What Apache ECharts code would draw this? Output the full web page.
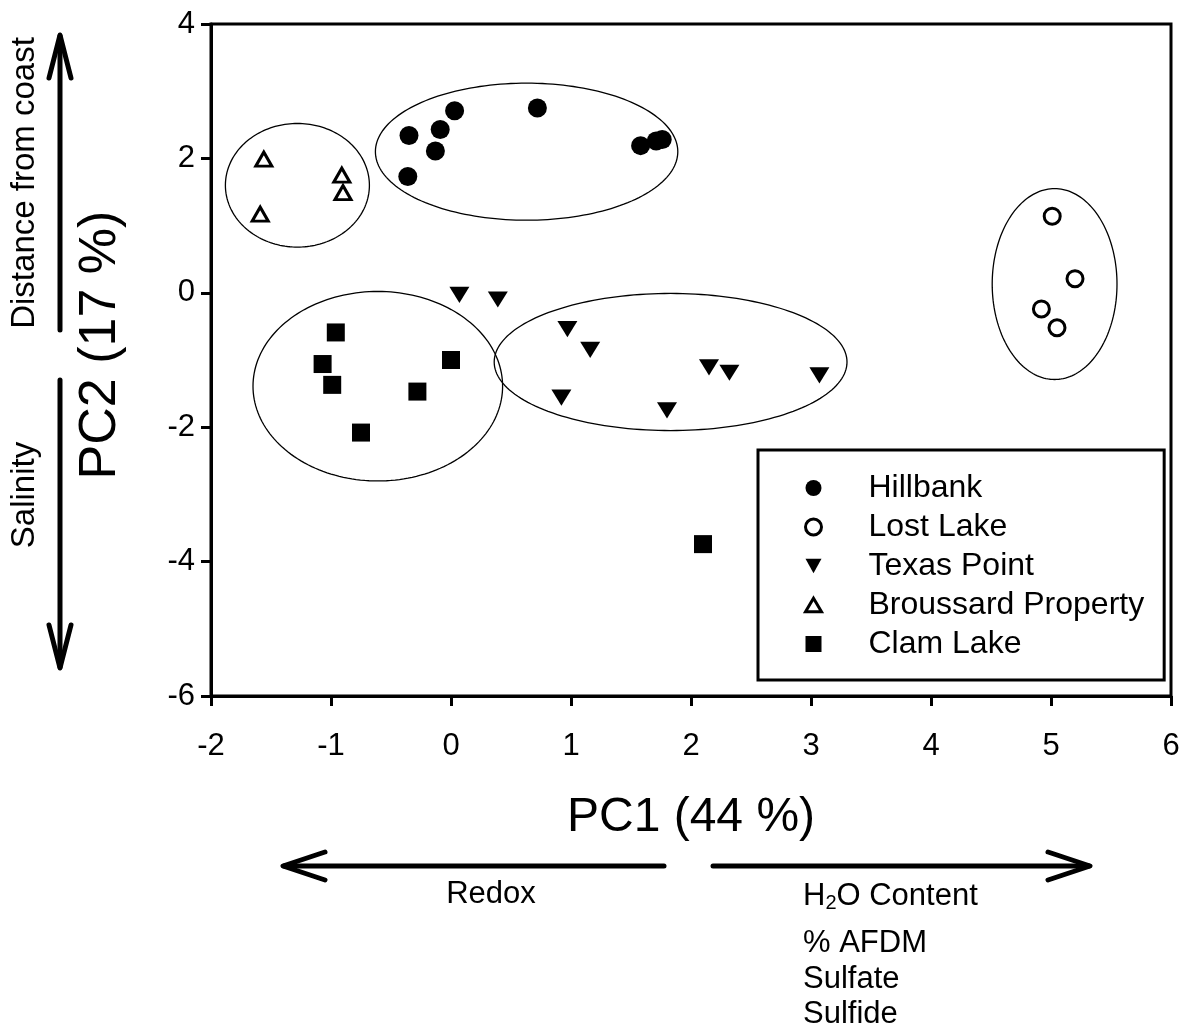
<!DOCTYPE html>
<html><head><meta charset="utf-8">
<script src="https://cdn.jsdelivr.net/npm/echarts@6/dist/echarts.min.js"></script>
<style>html,body{margin:0;padding:0;background:#fff}#c{width:1183px;height:1029px}</style>
</head><body><div id="c"></div>
<script>
// ---- data ----
const seriesNames = ['Hillbank', 'Lost Lake', 'Texas Point', 'Broussard Property', 'Clam Lake'];
const hillbankX = [-0.35, -0.09, 0.03, -0.13, -0.36, 0.72, 1.58, 1.71, 1.76];
const hillbankY = [2.34, 2.43, 2.71, 2.11, 1.73, 2.75, 2.19, 2.26, 2.28];
const lostLakeX = [5.01, 5.20, 4.92, 5.05];
const lostLakeY = [1.14, 0.21, -0.24, -0.52];
const texasX = [0.07, 0.39, 0.97, 1.16, 2.15, 2.32, 3.07, 0.92, 1.80];
const texasY = [-0.03, -0.10, -0.54, -0.85, -1.11, -1.19, -1.23, -1.56, -1.75];
const broussardX = [-1.56, -0.91, -0.90, -1.59];
const broussardY = [1.99, 1.75, 1.49, 1.17];
const clamX = [-0.96, -1.07, -0.99, 0.00, -0.28, -0.75, 2.10];
const clamY = [-0.59, -1.06, -1.37, -1.00, -1.47, -2.08, -3.74];
// group ellipses: Broussard, Hillbank, Lost Lake, Clam Lake, Texas Point
const ellipseCx = [-1.28, 0.63, 5.03, -0.61, 1.83];
const ellipseCy = [1.60, 2.10, 0.13, -1.39, -1.03];
const ellipseRx = [0.60, 1.26, 0.52, 1.04, 1.47];
const ellipseRy = [0.92, 1.02, 1.42, 1.41, 1.02];
const xAxisTitle = 'PC1 (44 %)';
const yAxisTitle = 'PC2 (17 %)';

const FONT = 'Liberation Sans, Arial, sans-serif';
function pairs(xs, ys) { return xs.map((v, i) => [v, ys[i]]); }

const chart = echarts.init(document.getElementById('c'), null, {renderer: 'canvas'});

const DOWN_TRI = 'path://M0,0L20,0L10,18Z';
const UP_TRI = 'path://M10,0L20,17L0,17Z';

const option = {
  backgroundColor: '#fff',
  animation: false,
  grid: {left: 211, right: 12, top: 24, bottom: 333, show: true, borderColor: '#000', borderWidth: 3, backgroundColor: 'transparent'},
  xAxis: {
    type: 'value', min: -2, max: 6, interval: 1,
    name: xAxisTitle, nameLocation: 'middle', nameGap: 98,
    nameTextStyle: {fontSize: 48, fontFamily: FONT, color: '#000'},
    axisLine: {show: true, onZero: false, lineStyle: {color: '#000', width: 3}},
    axisTick: {show: true, inside: false, length: 10, lineStyle: {color: '#000', width: 3}},
    axisLabel: {fontSize: 31, fontFamily: FONT, color: '#000', margin: 35},
    splitLine: {show: false}
  },
  yAxis: {
    type: 'value', min: -6, max: 4, interval: 2,
    name: yAxisTitle, nameLocation: 'middle', nameGap: 84,
    nameTextStyle: {fontSize: 52, fontFamily: FONT, color: '#000', padding: [0, 0, 0, 30]},
    axisLine: {show: true, onZero: false, lineStyle: {color: '#000', width: 3}},
    axisTick: {show: true, inside: false, length: 10, lineStyle: {color: '#000', width: 3}},
    axisLabel: {fontSize: 31, fontFamily: FONT, color: '#000', margin: 16},
    splitLine: {show: false}
  },
  legend: {
    orient: 'vertical', left: 758, top: 450,
    padding: [22, 20, 20, 46],
    itemWidth: 16, itemHeight: 16, itemGap: 7,
    borderColor: '#000', borderWidth: 3, backgroundColor: '#fff',
    selectedMode: false,
    textStyle: {fontSize: 32, fontFamily: FONT, color: '#000', lineHeight: 30, width: 275, padding: [0, 0, 0, 42]},
    data: [
      {name: seriesNames[0], icon: 'circle', itemStyle: {color: '#000'}},
      {name: seriesNames[1], icon: 'circle', itemStyle: {color: '#fff', borderColor: '#000', borderWidth: 3}},
      {name: seriesNames[2], icon: DOWN_TRI, itemStyle: {color: '#000'}},
      {name: seriesNames[3], icon: UP_TRI, itemStyle: {color: '#fff', borderColor: '#000', borderWidth: 3}},
      {name: seriesNames[4], icon: 'rect', itemStyle: {color: '#000'}}
    ]
  },
  series: [
    {
      type: 'custom', silent: true, z: 1,
      data: ellipseCx.map((v, i) => [v, ellipseCy[i], ellipseRx[i], ellipseRy[i]]),
      encode: {x: 0, y: 1},
      renderItem: function (params, api) {
        const cx = api.value(0), cy = api.value(1), rx = api.value(2), ry = api.value(3);
        const pts = [];
        for (let k = 0; k < 180; k++) {
          const t = 2 * Math.PI * k / 180;
          pts.push(api.coord([cx + rx * Math.cos(t), cy + ry * Math.sin(t)]));
        }
        return {type: 'polygon', shape: {points: pts}, style: {fill: 'none', stroke: '#000', lineWidth: 1.3}};
      }
    },
    {name: seriesNames[0], type: 'scatter', z: 3, data: pairs(hillbankX, hillbankY),
      symbol: 'circle', symbolSize: 19, itemStyle: {color: '#000', opacity: 1}},
    {name: seriesNames[1], type: 'scatter', z: 3, data: pairs(lostLakeX, lostLakeY),
      symbol: 'circle', symbolSize: 16, itemStyle: {color: '#fff', borderColor: '#000', borderWidth: 3, opacity: 1}},
    {name: seriesNames[2], type: 'scatter', z: 3, data: pairs(texasX, texasY),
      symbol: DOWN_TRI, symbolSize: [20, 18], symbolKeepAspect: true, itemStyle: {color: '#000', opacity: 1}},
    {name: seriesNames[3], type: 'scatter', z: 3, data: pairs(broussardX, broussardY),
      symbol: UP_TRI, symbolSize: [16, 14], itemStyle: {color: '#fff', borderColor: '#000', borderWidth: 3, opacity: 1}},
    {name: seriesNames[4], type: 'scatter', z: 3, data: pairs(clamX, clamY),
      symbol: 'rect', symbolSize: 18, itemStyle: {color: '#000', opacity: 1}}
  ],
  graphic: [
    // left vertical annotations
    {type: 'line', shape: {x1: 60, y1: 36, x2: 60, y2: 330}, style: {stroke: '#000', lineWidth: 5, lineCap: 'round'}},
    {type: 'polyline', shape: {points: [[49, 78], [60, 35], [71, 78]]}, style: {stroke: '#000', lineWidth: 5, fill: 'none', lineCap: 'round', lineJoin: 'round'}},
    {type: 'line', shape: {x1: 60, y1: 380, x2: 60, y2: 667}, style: {stroke: '#000', lineWidth: 5, lineCap: 'round'}},
    {type: 'polyline', shape: {points: [[49, 625], [60, 668], [71, 625]]}, style: {stroke: '#000', lineWidth: 5, fill: 'none', lineCap: 'round', lineJoin: 'round'}},
    {type: 'text', x: 25, y: 183, rotation: Math.PI / 2,
      style: {text: 'Distance from coast', font: '33px ' + FONT, fill: '#000', align: 'center', verticalAlign: 'middle'}},
    {type: 'text', x: 25, y: 495, rotation: Math.PI / 2,
      style: {text: 'Salinity', font: '33px ' + FONT, fill: '#000', align: 'center', verticalAlign: 'middle'}},
    // bottom horizontal annotations
    {type: 'line', shape: {x1: 284, y1: 866, x2: 664, y2: 866}, style: {stroke: '#000', lineWidth: 5, lineCap: 'round'}},
    {type: 'polyline', shape: {points: [[325, 852], [283, 866], [325, 880]]}, style: {stroke: '#000', lineWidth: 5, fill: 'none', lineCap: 'round', lineJoin: 'round'}},
    {type: 'line', shape: {x1: 713, y1: 866, x2: 1089, y2: 866}, style: {stroke: '#000', lineWidth: 5, lineCap: 'round'}},
    {type: 'polyline', shape: {points: [[1048, 852], [1090, 866], [1048, 880]]}, style: {stroke: '#000', lineWidth: 5, fill: 'none', lineCap: 'round', lineJoin: 'round'}},
    {type: 'text', x: 491, y: 894,
      style: {text: 'Redox', font: '31px ' + FONT, fill: '#000', align: 'center', verticalAlign: 'middle'}},
    {type: 'text', x: 803, y: 879,
      style: {
        text: '{a|H}{s|2}{a|O Content}',
        fill: '#000', align: 'left', verticalAlign: 'top',
        rich: {
          a: {fontSize: 31, fontFamily: FONT, fill: '#000', lineHeight: 34},
          s: {fontSize: 20, fontFamily: FONT, fill: '#000', verticalAlign: 'bottom', padding: [14, 0, 0, 0]}
        }
      }},
    {type: 'text', x: 803, y: 926,
      style: {text: '% AFDM\nSulfate\nSulfide', font: '31px ' + FONT, fill: '#000', align: 'left', verticalAlign: 'top', lineHeight: 35.5}}
  ]
};
chart.setOption(option);
</script>
</body></html>
